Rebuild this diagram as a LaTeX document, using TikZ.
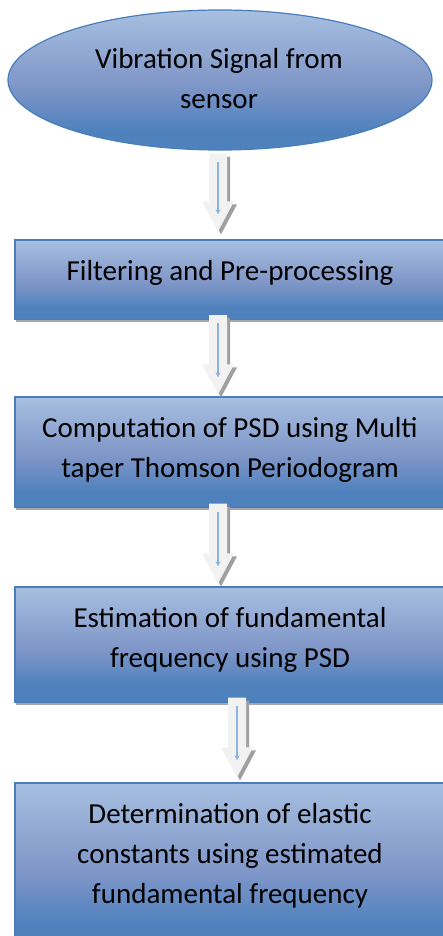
\documentclass[tikz,border=0pt]{standalone}
\usepackage{fontspec}
\setmainfont{Carlito}
\usetikzlibrary{calc,shapes.geometric,shadows,arrows.meta}
\definecolor{bordc}{RGB}{74,126,187}
\definecolor{topc}{RGB}{167,191,224}
\definecolor{midc}{RGB}{127,150,200}
\definecolor{botc}{RGB}{79,129,189}
\definecolor{arrfill}{RGB}{242,242,242}
\definecolor{arrshade}{RGB}{160,160,160}
\definecolor{arrline}{RGB}{141,179,226}
\pgfdeclareverticalshading{officeblue}{100bp}{color(0bp)=(botc); color(32bp)=(botc); color(48bp)=(midc); color(75bp)=(topc); color(100bp)=(topc)}
\newcommand\tstrut{\rule{0pt}{24pt}}
\newcommand\fatarrowpath[4]{($(#1)+({-9+#3},#4)$) -- ($(#2)+({-9+#3},{-30+#4})$) -- ($(#2)+({-16+#3},{-30+#4})$) -- ($(#2)+(#3,#4)$) -- ($(#2)+({16+#3},{-30+#4})$) -- ($(#2)+({9+#3},{-30+#4})$) -- ($(#1)+({9+#3},#4)$) -- cycle}
\newcommand\fatarrow[2]{%
  \fill[arrshade] \fatarrowpath{#1}{#2}{3}{3};
  \fill[arrfill] \fatarrowpath{#1}{#2}{0}{0};
  \draw[arrline, line width=1.3pt, -{Stealth[length=5pt,width=5pt]}] ($(#1)+(0,8)$) -- ($(#2)+(0,-17)$);
}
\tikzset{
  flowbox/.style={draw=bordc, line width=1.2pt, shade, shading=officeblue,
    drop shadow={shadow xshift=1pt, shadow yshift=-3pt, fill=gray!70, opacity=1},
    minimum width=430pt, inner sep=0pt},
  startell/.style={ellipse, draw=bordc, line width=1.2pt, shade, shading=officeblue,
    minimum width=424pt, minimum height=140pt, inner sep=0pt},
  lbl/.style={inner sep=0pt, anchor=north, align=center, font=\fontsize{29}{40}\selectfont, text=black},
}
\begin{document}
\begin{tikzpicture}[x=1pt,y=-1pt]
\useasboundingbox (0,0) rectangle (442,936);
\node[startell] (e) at (220,80) {};
\node[flowbox, minimum height=79pt] (b1) at (230,279.5) {};
\node[flowbox, minimum height=110pt] (b2) at (230,452) {};
\node[flowbox, minimum height=115pt] (b3) at (230,644.5) {};
\node[flowbox, minimum height=165pt] (b4) at (230,865.5) {};

\node[lbl] (t0) at (219,44) {\tstrut Vibration Signal from\\ sensor};
\node[lbl] (t1) at (230,256) {\tstrut Filtering and Pre-processing};
\node[lbl] (t2) at (230,413) {\tstrut Computation of PSD using Multi\\ taper Thomson Periodogram};
\node[lbl] (t3) at (230,603) {\tstrut Estimation of fundamental\\ frequency using PSD};
\node[lbl] (t4) at (230,799) {\tstrut Determination of elastic\\ constants using estimated\\ fundamental frequency};

\coordinate (a1s) at ($(e.south)+(-2,3)$);
\coordinate (a1t) at ($(b1.north)+(-12,-8)$);
\coordinate (a2s) at ($(b1.south)+(-12,-4.5)$);
\coordinate (a2t) at ($(b2.north)+(-12,-2)$);
\coordinate (a3s) at ($(b2.south)+(-12,-4)$);
\coordinate (a3t) at ($(b3.north)+(-12,-3)$);
\coordinate (a4s) at ($(b3.south)+(7,-5)$);
\coordinate (a4t) at ($(b4.north)+(7,-5)$);
\fatarrow{a1s}{a1t}
\fatarrow{a2s}{a2t}
\fatarrow{a3s}{a3t}
\fatarrow{a4s}{a4t}
\end{tikzpicture}
\end{document}
